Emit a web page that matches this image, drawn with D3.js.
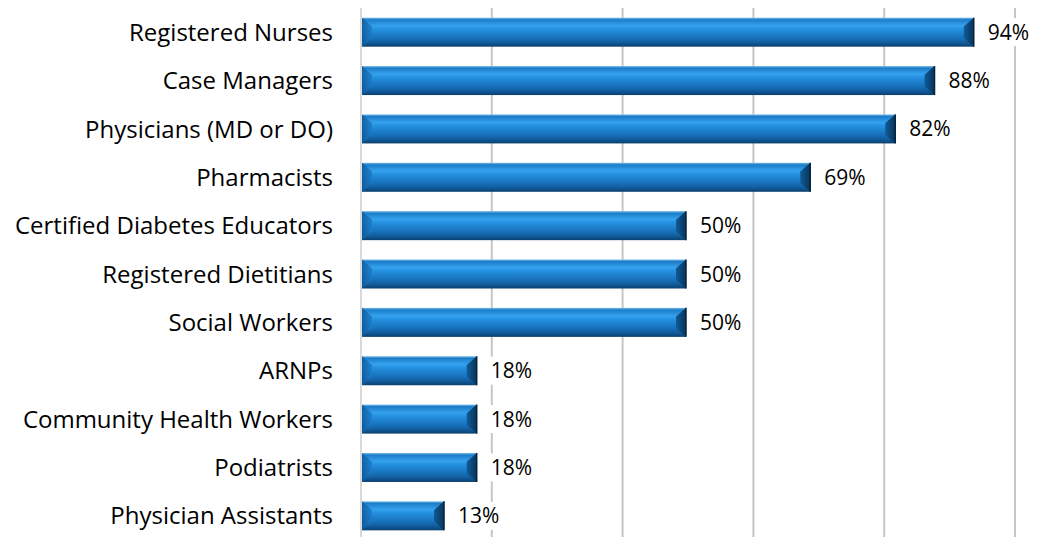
<!DOCTYPE html>
<html>
<head>
<meta charset="utf-8">
<script src="https://cdn.jsdelivr.net/npm/d3@7"></script>
<style>
  body { margin: 0; background: #fff; }
  text { font-family: "Open Sans", Lato, sans-serif; fill: #000; }
</style>
</head>
<body>
<div id="chart-area"></div>
<script>
// Chart data
var categories = ["Registered Nurses", "Case Managers", "Physicians (MD or DO)", "Pharmacists",
    "Certified Diabetes Educators", "Registered Dietitians", "Social Workers", "ARNPs",
    "Community Health Workers", "Podiatrists", "Physician Assistants"];
var values = [94, 88, 82, 69, 50, 50, 50, 18, 18, 18, 13];
var gridTicks = [0, 20, 40, 60, 80, 100];

var width = 1037, height = 537;
var margin = { left: 361, right: 22, top: 8, bottom: -3 };

var svg = d3.select("#chart-area").append("svg")
    .attr("width", width)
    .attr("height", height);

var defs = svg.append("defs");

// vertical shading of the bar body
var body = defs.append("linearGradient")
    .attr("id", "barBody")
    .attr("x1", 0).attr("y1", 0).attr("x2", 0).attr("y2", 1);
[[0, "#7cc0ee"], [0.07, "#1c7cc8"], [0.28, "#35a2ee"], [0.4, "#2490e0"],
 [0.72, "#176fb8"], [0.88, "#105896"], [1, "#0a3f6c"]].forEach(function(s) {
    body.append("stop").attr("offset", s[0]).attr("stop-color", s[1]);
});

var leftCap = defs.append("linearGradient")
    .attr("id", "leftCap")
    .attr("x1", 0).attr("y1", 0).attr("x2", 1).attr("y2", 0);
leftCap.append("stop").attr("offset", 0).attr("stop-color", "#0f5a9a");
leftCap.append("stop").attr("offset", 1).attr("stop-color", "#1b7dca");

var rightCap = defs.append("linearGradient")
    .attr("id", "rightCap")
    .attr("x1", 0).attr("y1", 0).attr("x2", 1).attr("y2", 0);
rightCap.append("stop").attr("offset", 0).attr("stop-color", "#0f5b98");
rightCap.append("stop").attr("offset", 1).attr("stop-color", "#083458");

var innerW = width - margin.left - margin.right;

var x = d3.scaleLinear().domain([0, 100]).range([0, innerW]);
var y = d3.scaleBand().domain(categories)
    .range([margin.top, height - margin.bottom])
    .paddingInner(0.4).paddingOuter(0.2);

var g = svg.append("g")
    .attr("transform", "translate(" + margin.left + ",0)");

// Gridlines
g.selectAll(".grid").data(gridTicks).enter().append("line")
    .attr("class", "grid")
    .attr("x1", function(d) { return x(d); })
    .attr("x2", function(d) { return x(d); })
    .attr("y1", margin.top)
    .attr("y2", height)
    .attr("stroke", function(d) { return d === 0 ? "#d9d9d9" : "#c6c6c6"; })
    .attr("stroke-width", 2);

// Category labels
svg.selectAll(".cat").data(categories).enter().append("text")
    .attr("class", "cat")
    .attr("x", margin.left - 28)
    .attr("y", function(d) { return y(d) + y.bandwidth() / 2; })
    .attr("dy", "0.36em")
    .attr("text-anchor", "end")
    .style("font-size", "24px")
    .text(function(d) { return d; });

var data = categories.map(function(c, i) { return { cat: c, val: values[i] }; });

var bars = g.selectAll(".bar").data(data).enter().append("g")
    .attr("class", "bar")
    .attr("transform", function(d) { return "translate(0," + y(d.cat) + ")"; });

var bh = y.bandwidth(), cap = 10;

bars.append("rect")
    .attr("x", 1)
    .attr("y", 0)
    .attr("width", function(d) { return x(d.val) - 3; })
    .attr("height", bh)
    .attr("fill", "url(#barBody)");

// left bevel
bars.append("path")
    .attr("d", "M1,0 L" + (1 + cap) + "," + (bh * 0.3) + " L" + (1 + cap) + "," + (bh * 0.7) + " L1," + bh + " Z")
    .attr("fill", "url(#leftCap)")
    .attr("opacity", 0.85);

// right bevel
bars.append("path")
    .attr("d", function(d) {
        var e = x(d.val) - 2;
        return "M" + e + ",0 L" + (e - cap) + "," + (bh * 0.3) + " L" + (e - cap) + "," + (bh * 0.7) +
            " L" + e + "," + bh + " Z";
    })
    .attr("fill", "url(#rightCap)");

bars.append("line")
    .attr("x1", function(d) { return x(d.val) - 2; })
    .attr("x2", function(d) { return x(d.val) - 2; })
    .attr("y1", 0).attr("y2", bh)
    .attr("stroke", "#06243e")
    .attr("stroke-width", 1.5);

// Value labels with white boxes (cover the gridlines)
var labels = bars.append("g")
    .attr("transform", function(d) { return "translate(" + (x(d.val) + 12) + "," + (bh / 2) + ")"; });

labels.append("rect")
    .attr("x", -3).attr("y", -14)
    .attr("width", 50).attr("height", 28)
    .attr("fill", "#fff");

labels.append("text")
    .attr("dy", "0.36em")
    .style("font-size", "21px")
    .text(function(d) { return d.val + "%"; });
</script>
</body>
</html>
